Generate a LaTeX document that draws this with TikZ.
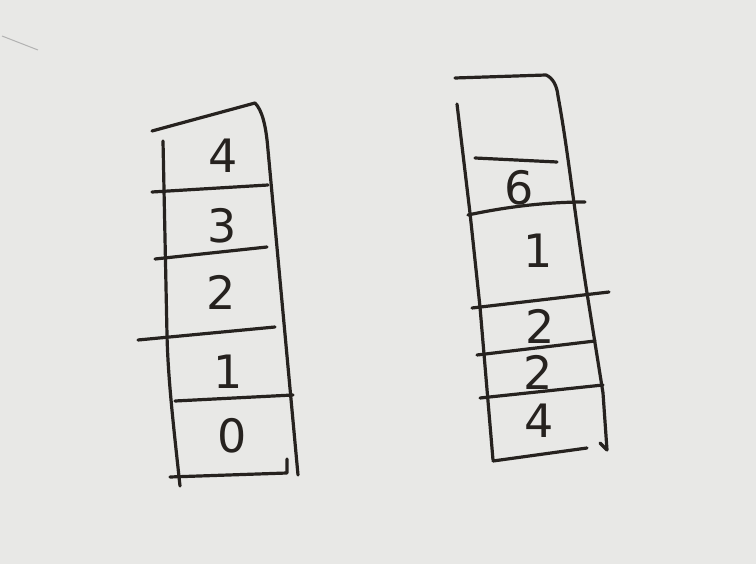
\documentclass[tikz,border=0pt]{standalone}
\usepackage{tikz}
\usepackage{fontspec}
\setsansfont{DejaVu Sans}
\usetikzlibrary{calc}
\definecolor{paper}{RGB}{232,232,230}
\definecolor{ink}{RGB}{38,34,31}
\tikzset{
    pen/.style={ink, line width=3.2pt, line cap=round, line join=round},
    digit/.style={ink, font=\sffamily\fontsize{46}{46}\selectfont, inner sep=0pt},
}

\begin{document}
\begin{tikzpicture}[x=1pt,y=-1pt]
    \fill[paper] (0,0) rectangle (756,564);
    \useasboundingbox (0,0) rectangle (756,564);
    \draw[gray!60, line width=1pt] (2,36) -- (38,50);

    % left stack
    \draw[pen] (152,131) -- (255,103) .. controls (262,110) and (266,125) .. (268,150) -- (298,475);
    \draw[pen] (163,141) -- (167,335) .. controls (168,380) and (174,430) .. (180,486);
    \draw[pen] (152,192) -- (268,185);
    \draw[pen] (155,259) -- (267,247);
    \draw[pen] (138,340) -- (275,327);
    \draw[pen] (175,401) -- (293,395);
    \draw[pen] (170,477) -- (287,473) -- (287,459);

    \node[digit] (l4) at (223,156) {4};
    \node[digit] (l3) at (222,226) {3};
    \node[digit] (l2) at (221,292) {2};
    \node[digit] (l1) at (228,372) {1};
    \node[digit] (l0) at (232,436) {0};

    % right stack
    \draw[pen] (455,78) -- (546,75) .. controls (553,78) and (557,86) .. (558,96)
        .. controls (568,150) and (574,210) .. (587,293) -- (603,393) -- (607,450) -- (600,443);
    \draw[pen] (457,104) -- (470,213) -- (480,307) -- (493,460);
    \draw[pen] (475,158) -- (557,162);
    \draw[pen] (468,215) .. controls (510,206) and (550,202) .. (585,202);
    \draw[pen] (472,308) -- (609,292);
    \draw[pen] (477,355) -- (595,341);
    \draw[pen] (480,398) -- (603,385);
    \draw[pen] (493,461) -- (587,448);

    \node[digit] (r6) at (519,188) {6};
    \node[digit] (r1) at (538,251) {1};
    \node[digit] (r2) at (540,326) {2};
    \node[digit] (r3) at (538,372) {2};
    \node[digit] (r4) at (539,421) {4};
\end{tikzpicture}
\end{document}
